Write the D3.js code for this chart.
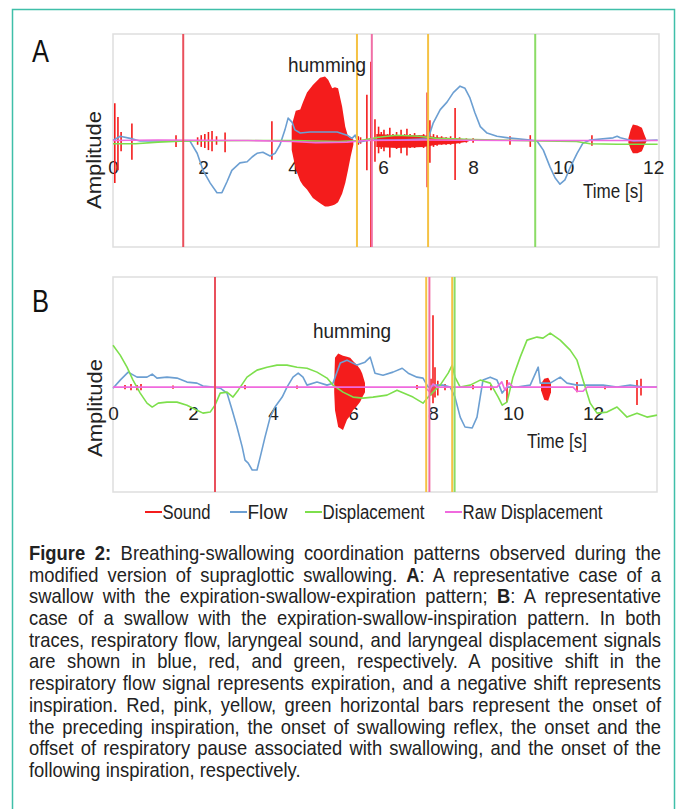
<!DOCTYPE html>
<html>
<head>
<meta charset="utf-8">
<script src="https://cdn.jsdelivr.net/npm/d3@7"></script>
<style>
  html, body { margin: 0; padding: 0; background: #fff; }
  svg { display: block; }
</style>
</head>
<body>
<svg id="fig" width="678" height="809"></svg>
<script>
/* ------------------------------------------------------------------
   Data (time in s, amplitude in arbitrary units)
   ------------------------------------------------------------------ */
const seriesNames = ["Sound", "Flow", "Displacement", "Raw Displacement"];
const ticksA = [0, 2, 4, 6, 8, 10, 12];
const ticksB = [0, 2, 4, 6, 8, 10, 12];

// panel A : expiration-swallow-expiration
const flowA = [[0,0],[0.16,4],[0.38,2],[0.6,-0.5],[1.04,-0.5],[1.71,-0.5],[1.87,-12],[2.0,-28],
  [2.16,-40],[2.31,-49],[2.42,-49],[2.53,-39],[2.64,-28],[2.82,-21],[2.98,-20],[3.09,-15.5],
  [3.2,-12],[3.33,-11],[3.49,-14.5],[3.6,-12],[3.71,-4],[3.82,10],[3.89,21],[3.98,17],[4.04,10],
  [4.16,7],[4.38,8],[4.98,8],[5.2,5],[5.31,2],[5.38,5],[5.44,-1.5],[5.71,0.5],[6.38,0.5],[7.0,1.5],
  [7.11,16],[7.27,29],[7.42,36],[7.56,45],[7.71,51],[7.82,49],[7.93,40],[8.04,26],[8.16,13],
  [8.31,7],[8.53,4],[8.78,2.5],[9.27,0.5],[9.42,-0.5],[9.56,-9],[9.71,-25],[9.82,-35],[9.93,-41],
  [10.04,-37],[10.16,-25],[10.31,-12],[10.44,-2.5],[10.6,0.5],[11.11,2.5],[11.2,4],[11.27,2.5],
  [11.56,-0.5],[12.1,0.5]];
const dispA = [[0,-3],[0.5,-3],[1.0,-1.5],[1.6,-0.5],[3.0,0],[4.0,0],[5.0,-1],[5.5,0],[5.9,3],
  [6.3,5],[6.8,4],[7.2,2],[8.0,1],[9.0,0],[9.5,-0.5],[10.3,-1],[10.6,-3],[11.2,-3.5],[12.1,-3.5]];
const rawA = [[0,0],[1,0.5],[3,0],[4,-1],[4.5,-2],[5.2,-1.5],[5.6,0],[7,0.5],[9,0],[12.1,0]];
// sound: isolated bursts [t, max, min]
const spikesA = [[0.04,35,-40],[0.11,22,-28],[0.18,8,-10],[0.42,16,-18],[1.4,5,-6],
  [1.88,3,-4],[1.96,5,-6],[2.04,6,-7],[2.12,8,-9],[2.2,9,-10],[2.3,4,-4],[2.49,7.5,-11],
  [3.53,18,-18],[5.45,4,-4],[5.5,3,-3],[5.64,43,-28],[5.73,74,-100],[5.82,20,-20],[5.9,13,-12],
  [5.96,8,-8],[6.02,10,-10],[6.1,6,-6],[6.15,12,-16],[6.22,6,-6],[6.3,8,-8],[6.4,10,-12],
  [6.48,6,-6],[6.53,11,-14],[6.6,6,-7],[6.7,7,-7],[6.8,5,-5],[6.9,6,-7],[6.98,45,-44],
  [7.04,19,-21],[7.12,6,-6],[7.2,5,-5],[7.3,4,-4],[7.4,3,-4],[7.5,4,-4],[7.6,30.5,-37],
  [7.7,3,-3],[7.85,2,-2],[8.0,2,-2],[8.82,4,-4],[9.27,5,-6],[10.64,5,-5]];
// sound: envelopes of dense bursts [t, upper, lower]
const hummingA = [[3.97,14,-9],[4.06,28,-27],[4.16,29,-38],[4.22,36,-42],[4.31,45,-46],
  [4.44,52,-54],[4.6,59,-59],[4.71,60,-62],[4.78,57,-62],[4.87,49,-61],[4.93,50,-60],
  [5.0,49,-58],[5.09,32,-50],[5.16,13,-40],[5.22,4,-28],[5.28,2,-15],[5.34,1,-4]];
const chatterA = [[5.85,6,-6],[6.3,5,-7],[6.9,5,-6],[7.2,3,-4],[7.6,2,-3],[7.9,1,-1]];
const tailA = [[11.45,2,-2],[11.5,10,-8],[11.55,15,-12],[11.65,14,-12],[11.75,12,-10],
  [11.8,6,-5],[11.85,1,-1]];
const markTimesA = [1.56, 5.42, 5.75, 7.0, 9.38];

// panel B : expiration-swallow-inspiration
const flowB = [[0,-1],[0.18,6.7],[0.38,14.3],[0.6,9.5],[0.85,9.5],[0.98,12.4],[1.1,8.6],
  [1.35,9.5],[1.6,8.6],[1.85,4.8],[2.1,3.8],[2.25,1],[2.5,0],[2.68,-1],[2.85,-5.7],[2.98,-22],
  [3.1,-38],[3.23,-57],[3.3,-69.6],[3.38,-72.5],[3.48,-79],[3.6,-79],[3.68,-66.7],[3.8,-47.7],
  [3.93,-28.6],[4.05,-19],[4.23,-9.5],[4.35,0],[4.5,9.5],[4.63,13.3],[4.75,9.5],[4.85,1.9],
  [5.1,4.8],[5.35,1.9],[5.5,3.8],[5.68,22.9],[5.85,25.7],[6.1,21],[6.3,23.8],[6.43,28.6],
  [6.55,13.3],[6.75,11.4],[7.0,14.3],[7.23,18],[7.38,13.3],[7.6,9.5],[7.75,8.6],[7.88,0],
  [8.05,1.9],[8.25,1.9],[8.43,0],[8.55,-9.5],[8.68,-28.6],[8.8,-38],[8.98,-39],[9.1,-28.6],
  [9.18,-9.5],[9.25,6.7],[9.43,9.5],[9.6,6.7],[9.73,-5.7],[9.85,0],[10.1,0],[10.43,1.9],
  [10.63,19],[10.68,3.8],[10.93,3.8],[11.18,9.5],[11.35,3.8],[11.6,1.9],[11.93,1.9],[12.25,1.9],
  [12.6,0],[12.93,1.9],[13.25,0],[13.6,0]];
const dispB = [[0,40],[0.18,30.5],[0.35,19],[0.5,6.7],[0.68,-5.7],[0.85,-15.3],[0.98,-19],
  [1.13,-15.3],[1.35,-14.3],[1.6,-14.3],[1.85,-17.2],[2.1,-22],[2.25,-24.8],[2.43,-23.8],
  [2.55,-17.2],[2.68,-5.7],[2.85,-4.8],[3.0,-9.5],[3.13,-2.9],[3.35,9.5],[3.6,16.2],[3.85,19],
  [4.1,21],[4.35,21],[4.6,19],[4.85,18],[5.1,14.3],[5.35,8.6],[5.5,1.9],[5.75,-4.8],[6.0,-9.5],
  [6.25,-10.5],[6.5,-9.5],[6.85,-7.6],[7.1,-2.9],[7.5,-9.5],[7.75,-15.3],[7.88,-9.5],[8.0,-4.8],
  [8.18,1.9],[8.38,13.3],[8.48,21],[8.55,9.5],[8.68,0],[8.93,1.9],[9.18,6.7],[9.43,3.8],
  [9.63,-9.5],[9.73,-17.2],[9.85,-14.3],[10.0,9.5],[10.18,28.6],[10.35,44.8],[10.6,47.7],
  [10.75,46.7],[10.93,51.5],[11.18,44.8],[11.43,35.3],[11.6,25.7],[11.75,6.7],[11.93,-15.3],
  [12.1,-24.8],[12.35,-23.8],[12.6,-19],[12.85,-28.6],[13.1,-24.8],[13.35,-28.6],[13.6,-26.7]];
const rawB = [[0,0],[7.8,0],[7.9,-4],[8.0,3],[8.1,0],[9.6,0],[9.72,5],[9.8,-3],[9.9,4],[10.0,0],
  [11.5,0],[11.6,-4],[11.75,-4],[11.85,0],[13.6,0]];
const spikesB = [[0.3,2,-2],[0.45,3,-3],[0.6,2,-3],[0.7,3,-3],[1.5,1.5,-1.5],[2.55,3,-3],
  [3.3,2,-2],[4.6,1.5,-1.5],[7.6,2,-2],[7.95,8,-8],[8.0,68.6,-15.3],[8.05,19,-10],[8.12,6,-8],
  [8.3,3,-3],[9.0,2,-2],[9.45,2,-3],[9.85,6.7,-14.3],[11.6,5,-5],[12.3,2,-2],[13.1,6.7,-17],
  [13.2,8,-8]];
const hummingB = [[5.53,5,-5],[5.55,28,-22],[5.63,32,-38],[5.75,30,-41],[5.85,29,-31],
  [5.93,28,-27],[6.0,25,-22],[6.1,21,-18],[6.18,17,-14],[6.23,13,-10],[6.3,4,-5]];
const burstB = [[10.7,3,-3],[10.78,8,-12],[10.88,9,-13],[10.95,4,-5]];
const markTimesB = [2.55, 7.83, 7.91, 8.48, 8.54];

// order of the event bars in both panels
const markKinds = ["inspOnset", "pauseOnset", "swallowOnset", "pauseOffset", "nextInsp"];

const captionLines = [
  "**Figure 2:** Breathing-swallowing coordination patterns observed during the",
  "modified version of supraglottic swallowing. **A**: A representative case of a",
  "swallow with the expiration-swallow-expiration pattern; **B**: A representative",
  "case of a swallow with the expiration-swallow-inspiration pattern. In both",
  "traces, respiratory flow, laryngeal sound, and laryngeal displacement signals",
  "are shown in blue, red, and green, respectively. A positive shift in the",
  "respiratory flow signal represents expiration, and a negative shift represents",
  "inspiration. Red, pink, yellow, green horizontal bars represent the onset of",
  "the preceding inspiration, the onset of swallowing reflex, the onset and the",
  "offset of respiratory pause associated with swallowing, and the onset of the",
  "following inspiration, respectively."
];

/* ------------------------------------------------------------------
   Styles
   ------------------------------------------------------------------ */
const NARROW = "'Liberation Sans Narrow','Arial Narrow','Liberation Sans',Arial,sans-serif";
const ARIAL  = "'Liberation Sans',Arial,Helvetica,sans-serif";
const COL = { Sound:"#f41c1c", Flow:"#6c9fd2", Displacement:"#7ddf4c", "Raw Displacement":"#f06ade" };
const markColor = { inspOnset:"#e9505c", swallowOnset:"#f06fa6", pauseOnset:"#f5c244",
                    pauseOffset:"#f5c244", nextInsp:"#8bdc66" };

const svg = d3.select("#fig");

// outer frame
svg.append("rect")
  .attr("x", 12.5).attr("y", 9.5).attr("width", 662).attr("height", 830)
  .attr("fill", "none").attr("stroke", "#3fbfa9").attr("stroke-width", 1.5);

function fit(sel, w) {
  sel.attr("textLength", w).attr("lengthAdjust", "spacingAndGlyphs");
  return sel;
}

/* ------------------------------------------------------------------
   One panel
   ------------------------------------------------------------------ */
function panel(p) {
  const x = d3.scaleLinear().domain([0, p.xMax]).range([p.left, p.right]);
  const y = d3.scaleLinear().domain(p.yDom).range([p.bottom, p.top]);
  const g = svg.append("g");

  g.append("rect")
    .attr("x", p.left).attr("y", p.top)
    .attr("width", p.right - p.left).attr("height", p.bottom - p.top)
    .attr("fill", "none").attr("stroke", "#dedede").attr("stroke-width", 1.5);

  // axis labels sit on the zero line
  const ax = g.append("g")
    .attr("transform", `translate(0,${y(0)})`)
    .call(d3.axisBottom(x).tickValues(p.ticks).tickSize(0).tickFormat(d3.format("d")));
  ax.select(".domain").remove();
  ax.selectAll("text")
    .attr("dy", null).attr("y", 33)
    .attr("fill", "#222")
    .style("font-family", NARROW).style("font-size", "19px");

  const line = d3.line().x(d => x(d[0])).y(d => y(d[1]));
  const band = d3.area().x(d => x(d[0])).y0(d => y(d[2])).y1(d => y(d[1]));

  // sound
  p.bands.forEach(b => g.append("path").datum(b).attr("d", band).attr("fill", COL.Sound));
  g.append("g").selectAll("line").data(p.spikes).join("line")
    .attr("x1", d => x(d[0])).attr("x2", d => x(d[0]))
    .attr("y1", d => y(d[1])).attr("y2", d => y(d[2]))
    .attr("stroke", COL.Sound).attr("stroke-width", 1.6);

  // flow, displacement, raw displacement
  [[p.flow, "Flow"], [p.disp, "Displacement"], [p.raw, "Raw Displacement"]].forEach(([d, k]) => {
    g.append("path").datum(d).attr("d", line)
      .attr("fill", "none").attr("stroke", COL[k]).attr("stroke-width", 1.6)
      .attr("stroke-linejoin", "round");
  });

  // event bars
  g.append("g").selectAll("line").data(p.marks).join("line")
    .attr("x1", d => x(d)).attr("x2", d => x(d))
    .attr("y1", p.top).attr("y2", p.bottom)
    .attr("stroke", (d, i) => markColor[markKinds[i]]).attr("stroke-width", 2);

  // texts
  fit(g.append("text").attr("x", 32).attr("y", p.letterY).text(p.letter)
    .attr("fill", "#111").style("font-family", ARIAL).style("font-size", "32px"), 17);
  fit(g.append("text").attr("x", p.humX).attr("y", p.humY).text("humming")
    .attr("fill", "#222").style("font-family", NARROW).style("font-size", "21px"), 78);
  fit(g.append("text").attr("x", p.timeX).attr("y", p.timeY).text("Time [s]")
    .attr("fill", "#222").style("font-family", NARROW).style("font-size", "20px"), 60);
  fit(g.append("text").attr("transform", `translate(${p.ampX},${p.ampY}) rotate(-90)`)
    .attr("text-anchor", "middle").text("Amplitude")
    .attr("fill", "#222").style("font-family", ARIAL).style("font-size", "20px"), 98);
}

panel({ left:113, right:659, top:34, bottom:247, xMax:12.13, yDom:[-100, 100], ticks:ticksA,
  flow:flowA, disp:dispA, raw:rawA, spikes:spikesA, bands:[hummingA, chatterA, tailA],
  marks:markTimesA, letter:"A", letterY:62, humX:288, humY:72, timeX:583, timeY:198,
  ampX:101, ampY:160 });

panel({ left:113, right:657, top:277, bottom:492, xMax:13.6, yDom:[-100, 105], ticks:ticksB,
  flow:flowB, disp:dispB, raw:rawB, spikes:spikesB, bands:[hummingB, burstB], marks:markTimesB,
  letter:"B", letterY:312, humX:313, humY:338, timeX:527, timeY:448, ampX:102, ampY:408 });

/* ------------------------------------------------------------------
   Legend
   ------------------------------------------------------------------ */
const legX = [145, 230, 305, 445], legW = [48, 40, 102, 140];
const leg = svg.append("g").selectAll("g").data(seriesNames).join("g")
  .attr("transform", (d, i) => `translate(${legX[i]},512)`);
leg.append("line").attr("x1", 0).attr("x2", 17)
  .attr("stroke", d => COL[d]).attr("stroke-width", 2);
leg.append("text").attr("x", 17.5).attr("y", 6.5).text(d => d)
  .attr("fill", "#222").style("font-family", NARROW).style("font-size", "20px")
  .each(function(d, i) { fit(d3.select(this), legW[i]); });

/* ------------------------------------------------------------------
   Caption (condensed, justified)
   ------------------------------------------------------------------ */
const capX = 29, capW = 632, capY0 = 560, capLH = 21.7, capSX = 0.92;
const cap = svg.append("g").attr("transform", `translate(${capX},0) scale(${capSX},1)`);
captionLines.forEach((ln, i) => {
  const t = cap.append("text").attr("x", 0).attr("y", capY0 + i * capLH)
    .attr("fill", "#222").style("font-family", ARIAL).style("font-size", "20px");
  ln.split("**").forEach((part, j) => {
    if (part) t.append("tspan").text(part).style("font-weight", j % 2 ? "bold" : "normal");
  });
  if (i === captionLines.length - 1) return;
  const w = capW / capSX;
  const len = t.node().getComputedTextLength();
  const gaps = (ln.match(/ /g) || []).length;
  if (len < w) t.attr("word-spacing", (w - len) / gaps);
  else fit(t, w);
});
</script>
</body>
</html>
